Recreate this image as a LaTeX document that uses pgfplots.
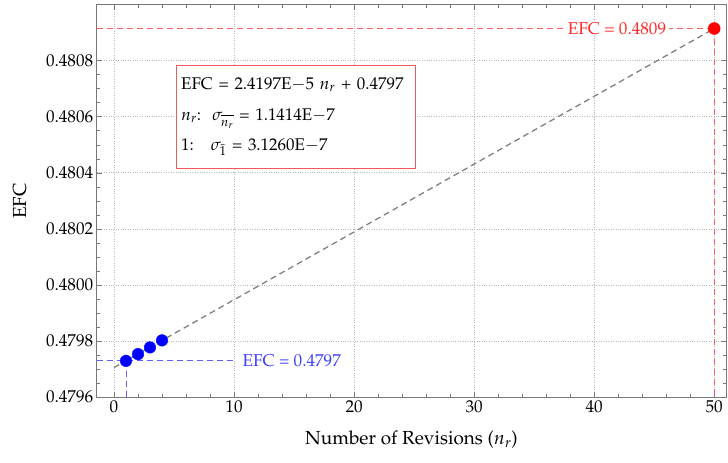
\documentclass[border=0pt]{standalone}
\usepackage[T1]{fontenc}
\usepackage{mathpazo}
\usepackage{pgfplots}
\pgfplotsset{compat=1.18}

\definecolor{axisgray}{RGB}{120,120,120}
\definecolor{gridgray}{RGB}{185,185,185}
\definecolor{fitgray}{RGB}{128,128,128}
\definecolor{lightred}{RGB}{255,95,95}
\definecolor{lightblue}{RGB}{95,95,255}
\definecolor{labelred}{RGB}{255,40,40}
\definecolor{labelblue}{RGB}{60,60,255}
\definecolor{boxred}{RGB}{240,90,90}

\begin{document}
\begin{tikzpicture}
\path[use as bounding box] (0,0) rectangle (728bp,463bp);
\begin{axis}[
  at={(96.7bp,66bp)}, anchor=south west,
  scale only axis,
  width=629.5bp, height=392.3bp,
  xmin=-1.44, xmax=51,
  ymin=0.4796, ymax=0.4810,
  xtick={0,10,20,30,40,50},
  minor x tick num=4,
  ytick={0.4796,0.4798,0.4800,0.4802,0.4804,0.4806,0.4808},
  minor y tick num=3,
  yticklabel style={/pgf/number format/.cd, fixed, fixed zerofill, precision=4},
  scaled y ticks=false,
  tick align=inside,
  major tick length=5bp,
  minor tick length=3bp,
  every tick/.style={axisgray, line width=0.6pt},
  axis line style={axisgray, line width=0.8pt},
  grid=major,
  major grid style={gridgray, dotted, line width=0.7pt},
  tick label style={font=\fontsize{17.2}{20}\selectfont, black},
  label style={font=\fontsize{19}{22}\selectfont},
  xlabel={Number of Revisions ($n_r$)},
  ylabel={EFC},
  xlabel style={at={(axis description cs:0.5,-0.1096)}, anchor=center},
  ylabel style={at={(axis description cs:-0.1223,0.5)}, anchor=center},
  clip=false,
]
% reference lines for the first and last revision counts
\addplot[lightblue, dash pattern=on 6bp off 4bp, line width=0.8pt]
  coordinates {(-1.44,0.479729) (9.9,0.479729)};
\addplot[lightblue, dash pattern=on 6bp off 4bp, line width=0.8pt]
  coordinates {(1,0.479729) (1,0.4796)};
\addplot[lightred, dash pattern=on 6bp off 4bp, line width=0.8pt]
  coordinates {(-1.44,0.480915) (50,0.480915)};
\addplot[lightred, dash pattern=on 6bp off 4bp, line width=0.8pt]
  coordinates {(50,0.480915) (50,0.4796)};

% linear fit
\addplot[fitgray, dash pattern=on 6bp off 4bp, line width=1.3pt]
  coordinates {(0,0.479705) (50,0.480915)};

% measured values
\addplot[only marks, mark=*, mark size=5.8bp, blue, mark options={draw=blue, fill=blue}]
  coordinates {(1,0.479729) (2,0.479753) (3,0.479777) (4,0.479802)};
\addplot[only marks, mark=*, mark size=6bp, red, mark options={draw=red, fill=red}]
  coordinates {(50,0.480915)};

\node[labelred, fill=white, inner xsep=3bp, inner ysep=1bp,
      font=\fontsize{17.2}{20}\selectfont]
  at (axis cs:41.9,0.480915) {EFC = 0.4809};
\node[labelblue, anchor=west, inner sep=0pt,
      font=\fontsize{17.2}{20}\selectfont]
  at (axis cs:10.7,0.479729) {EFC = 0.4797};

\node[draw=boxred, line width=0.8pt, fill=white, anchor=north west,
      align=left, inner xsep=4bp, inner ysep=6bp,
      font=\fontsize{17}{20}\selectfont,
      minimum width=239bp, minimum height=103bp, text width=229bp]
  at (axis cs:5.15,0.480786)
  {EFC = 2.4197E$-$5 $n_r$ + 0.4797\\[11bp]
   $n_r$:\ \ $\sigma_{\overline{\vphantom{l}n_r}}$ = 1.1414E$-$7\\[11bp]
   1:\ \ \ $\sigma_{\bar{1}}$ = 3.1260E$-$7};
\end{axis}
\end{tikzpicture}
\end{document}
